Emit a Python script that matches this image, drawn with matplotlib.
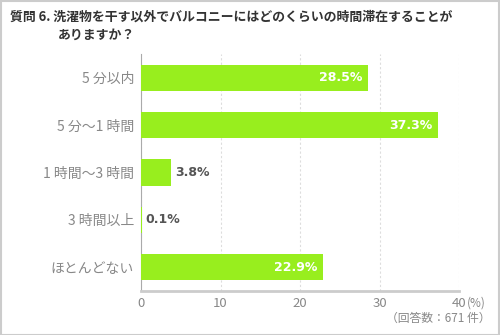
import matplotlib
matplotlib.use("Agg")
import matplotlib.pyplot as plt
from matplotlib.patches import Rectangle

plt.rcParams['font.family'] = ['Noto Sans CJK JP', 'DejaVu Sans']

categories = ['5 分以内', '5 分～1 時間', '1 時間～3 時間', '3 時間以上', 'ほとんどない']
values = [28.5, 37.3, 3.8, 0.1, 22.9]
xticks = [0, 10, 20, 30, 40]

bar_color = '#98ee1e'
W, H = 500, 335

fig = plt.figure(figsize=(W / 100, H / 100), dpi=100)
ax = fig.add_axes([141 / W, 1 - 291 / H, (459 - 141) / W, (291 - 54) / H])

pos = list(range(len(categories)))
ax.barh(pos, values, height=0.55, color=bar_color, zorder=3)
ax.set_ylim(4.5, -0.5)
ax.set_xlim(0, 40)
ax.set_yticks(pos)
ax.set_yticklabels(categories, fontsize=10, color='#888888')
ax.set_xticks(xticks)
ax.set_xticklabels([str(t) for t in xticks], fontsize=9.5, color='#888888')
ax.tick_params(axis='y', length=0, pad=5)
ax.tick_params(axis='x', length=0, pad=4)
ax.xaxis.grid(True, linestyle=(0, (2, 2)), color='#dddddd', linewidth=0.8, zorder=0)
for s in ['top', 'right']:
    ax.spines[s].set_visible(False)
ax.spines['left'].set_color('#aaaaaa')
ax.spines['bottom'].set_color('#cccccc')
ax.spines['bottom'].set_linewidth(2)

for p, v in zip(pos, values):
    if v > 10:
        ax.text(v - 0.7, p, f'{v}%', ha='right', va='center', color='white',
                fontsize=9, fontweight='bold', family='DejaVu Sans', zorder=4)
    else:
        ax.text(v + 0.45, p, f'{v}%', ha='left', va='center', color='#555555',
                fontsize=9, fontweight='bold', family='DejaVu Sans', zorder=4)

fig.text(467 / W, 1 - 303 / H, '(%)', fontsize=8.5, color='#888888', va='center', ha='left')
fig.text(490 / W, 1 - 318 / H, '（回答数：671 件）', fontsize=8.5, color='#888888', va='center', ha='right')

fig.text(10 / W, 1 - 17 / H, '質問 6. 洗濯物を干す以外でバルコニーにはどのくらいの時間滞在することが',
         fontsize=9.3, fontweight='bold', color='#333333', va='center', ha='left')
fig.text(58 / W, 1 - 35 / H, 'ありますか？',
         fontsize=9.3, fontweight='bold', color='#333333', va='center', ha='left')

fig.patches.append(Rectangle((0.5 / W, 0.5 / H), 1 - 1.5 / W, 1 - 1.5 / H, transform=fig.transFigure,
                             fill=False, edgecolor='#cccccc', linewidth=1.5))

fig.savefig('out.png', dpi=100)
